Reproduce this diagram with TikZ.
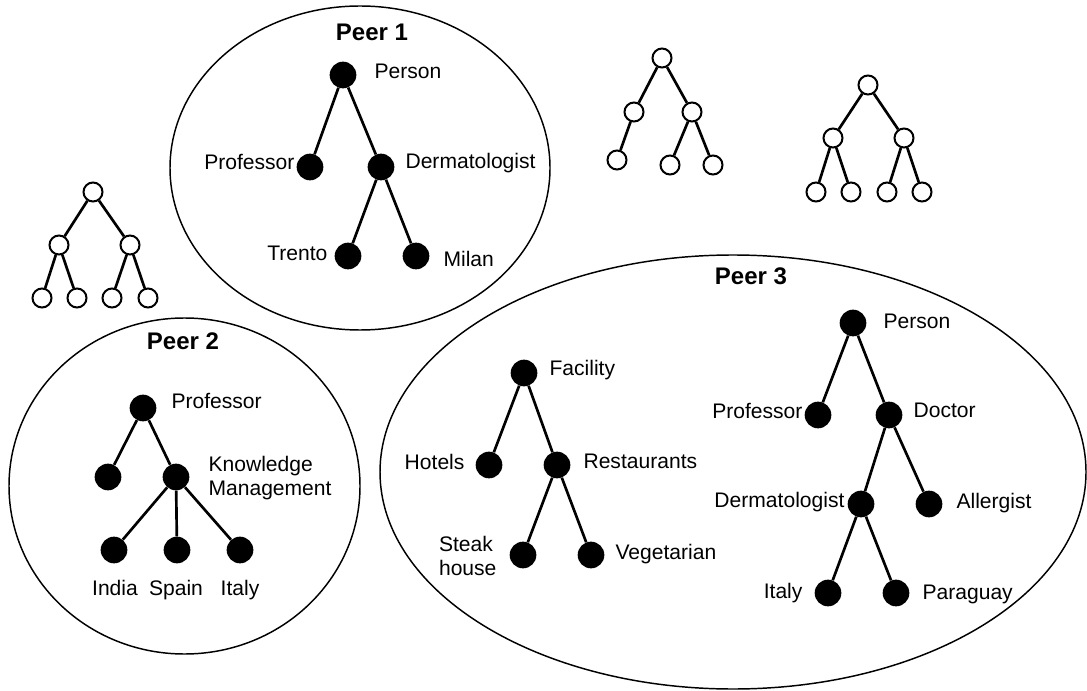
\documentclass[tikz,border=0pt]{standalone}
\usepackage{fontspec}
\setmainfont{Liberation Sans}
\usetikzlibrary{shapes.geometric,calc}
\begin{document}
\begin{tikzpicture}[x=0.75pt,y=-0.75pt,
  peer/.style={draw, ellipse, line width=1.1pt, inner sep=0pt},
  dot/.style={circle, fill=black, inner sep=0pt, minimum size=20pt},
  ring/.style={circle, draw, fill=white, line width=1.5pt, inner sep=0pt, minimum size=14.25pt},
  branch/.style={line width=2pt},
  lbl/.style={inner sep=0pt, font=\fontsize{15.8pt}{18.2pt}\selectfont},
  title/.style={inner sep=0pt, font=\fontsize{18pt}{21pt}\selectfont\bfseries},
]
\useasboundingbox (0,0) rectangle (1087,691);

% ---- peer boundaries ----
\node[peer, minimum width=285pt, minimum height=243pt] (peer1) at (360,168) {};
\node[peer, minimum width=263.25pt, minimum height=252pt] (peer2) at (184.5,486) {};
\node[peer, minimum width=529.5pt, minimum height=325.5pt] (peer3) at (733,472) {};
\node[title, anchor=base] (peer1T) at (372,40.7) {Peer 1};
\node[title, anchor=base] (peer2T) at (183,349.3) {Peer 2};
\node[title, anchor=base] (peer3T) at (751,285) {Peer 3};

% ---- Peer 1 classification ----
\node[dot] (a0) at (343,75) {};
\node[dot] (a1) at (310,167) {};
\node[dot] (a2) at (381,167) {};
\node[dot] (a21) at (348,256) {};
\node[dot] (a22) at (416,256) {};
\foreach \p/\c in {a0/a1,a0/a2,a2/a21,a2/a22} \draw[branch] (\p) -- (\c);
\node[lbl, anchor=mid west] (a0L) at ($(a0.east)+(17.7,0)$) {Person};
\node[lbl, anchor=mid east] (a1L) at ($(a1.west)+(-1.7,-1)$) {Professor};
\node[lbl, anchor=mid west] (a2L) at ($(a2.east)+(10.7,-2)$) {Dermatologist};
\node[lbl, anchor=mid east] (a21L) at ($(a21.west)+(-6.7,1)$) {Trento};
\node[lbl, anchor=mid west] (a22L) at ($(a22.east)+(13.7,6.5)$) {Milan};

% ---- Peer 2 classification ----
\node[dot] (b0) at (143,408) {};
\node[dot] (b1) at (108,477) {};
\node[dot] (b2) at (176,477) {};
\node[dot] (b21) at (114,550) {};
\node[dot] (b22) at (177,550) {};
\node[dot] (b23) at (240,550) {};
\foreach \p/\c in {b0/b1,b0/b2,b2/b21,b2/b22,b2/b23} \draw[branch] (\p) -- (\c);
\node[lbl, anchor=mid west] (b0L) at ($(b0.east)+(14.7,-3)$) {Professor};
\node[lbl, anchor=west, align=left] (b2L) at ($(b2.east)+(18.7,1)$) {Knowledge\\Management};
\node[lbl, anchor=base] (b21L) at ($(b21)+(1,45)$) {India};
\node[lbl, anchor=base] (b22L) at ($(b22)+(-1,45)$) {Spain};
\node[lbl, anchor=base] (b23L) at ($(b23)+(0,45)$) {Italy};

% ---- Peer 3: facilities ----
\node[dot] (c0) at (524,373) {};
\node[dot] (c1) at (489,465) {};
\node[dot] (c2) at (557,465) {};
\node[dot] (c21) at (523,555) {};
\node[dot] (c22) at (591,555) {};
\foreach \p/\c in {c0/c1,c0/c2,c2/c21,c2/c22} \draw[branch] (\p) -- (\c);
\node[lbl, anchor=mid west] (c0L) at ($(c0.east)+(11.7,-1)$) {Facility};
\node[lbl, anchor=mid east] (c1L) at ($(c1.west)+(-10.7,1)$) {Hotels};
\node[lbl, anchor=mid west] (c2L) at ($(c2.east)+(12.7,0)$) {Restaurants};
\node[lbl, anchor=east, align=left] (c21L) at ($(c21.west)+(-12.7,1)$) {Steak\\house};
\node[lbl, anchor=mid west] (c22L) at ($(c22.east)+(10.7,1)$) {Vegetarian};

% ---- Peer 3: persons ----
\node[dot] (d0) at (853,323) {};
\node[dot] (d1) at (818,415) {};
\node[dot] (d2) at (889,415) {};
\node[dot] (d21) at (861,504) {};
\node[dot] (d22) at (929,504) {};
\node[dot] (d211) at (828,593) {};
\node[dot] (d212) at (896,593) {};
\foreach \p/\c in {d0/d1,d0/d2,d2/d21,d2/d22,d21/d211,d21/d212} \draw[branch] (\p) -- (\c);
\node[lbl, anchor=mid west] (d0L) at ($(d0.east)+(16.7,1.5)$) {Person};
\node[lbl, anchor=mid east] (d1L) at ($(d1.west)+(-1.7,0)$) {Professor};
\node[lbl, anchor=mid west] (d2L) at ($(d2.east)+(10.7,-1)$) {Doctor};
\node[lbl, anchor=mid east] (d21L) at ($(d21.west)+(-2.7,0)$) {Dermatologist};
\node[lbl, anchor=mid west] (d22L) at ($(d22.east)+(13.7,0.5)$) {Allergist};
\node[lbl, anchor=mid east] (d211L) at ($(d211.west)+(-11.7,1.5)$) {Italy};
\node[lbl, anchor=mid west] (d212L) at ($(d212.east)+(12.7,3)$) {Paraguay};

% ---- unlabelled trees outside the peers ----
\node[ring] (e0) at (93,192) {};
\node[ring] (e1) at (59,245) {};
\node[ring] (e2) at (130,245) {};
\node[ring] (e11) at (42,298) {};
\node[ring] (e12) at (77,298) {};
\node[ring] (e21) at (112,298) {};
\node[ring] (e22) at (148,298) {};
\foreach \p/\c in {e0/e1,e0/e2,e1/e11,e1/e12,e2/e21,e2/e22} \draw[branch] (\p) -- (\c);

\node[ring] (f0) at (662,58) {};
\node[ring] (f1) at (634,112) {};
\node[ring] (f2) at (692,112) {};
\node[ring] (f11) at (617,160) {};
\node[ring] (f21) at (670,165) {};
\node[ring] (f22) at (713,165) {};
\foreach \p/\c in {f0/f1,f0/f2,f1/f11,f2/f21,f2/f22} \draw[branch] (\p) -- (\c);

\node[ring] (g0) at (868,85) {};
\node[ring] (g1) at (833,138) {};
\node[ring] (g2) at (904,138) {};
\node[ring] (g11) at (816,192) {};
\node[ring] (g12) at (851,192) {};
\node[ring] (g21) at (887,192) {};
\node[ring] (g22) at (922,192) {};
\foreach \p/\c in {g0/g1,g0/g2,g1/g11,g1/g12,g2/g21,g2/g22} \draw[branch] (\p) -- (\c);
\end{tikzpicture}
\end{document}
